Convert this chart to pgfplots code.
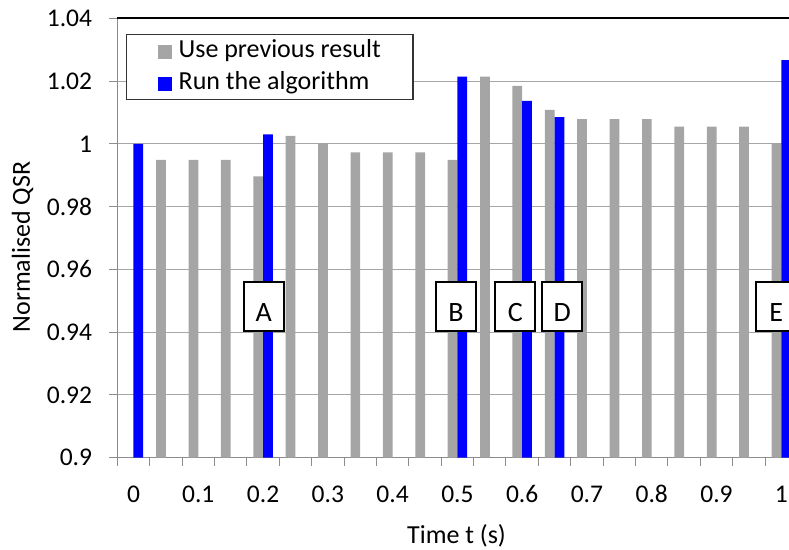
\documentclass[border=0pt]{standalone}
\usepackage{fontspec}
\setmainfont{Carlito}
\usepackage{pgfplots}
\usepackage{pgfplotstable}
\pgfplotsset{compat=1.18}

\definecolor{barGray}{HTML}{A5A5A5}
\definecolor{barBlue}{HTML}{0000FF}
\definecolor{gridGray}{HTML}{A6A6A6}
\definecolor{axisGray}{HTML}{8C8C8C}

% category index i = t/0.05
\pgfplotstableread{
x y
1 0.9949
2 0.9949
3 0.9949
4 0.9896
5 1.0025
6 1.0000
7 0.9973
8 0.9973
9 0.9973
10 0.9949
11 1.0214
12 1.0185
13 1.0108
14 1.0079
15 1.0079
16 1.0079
17 1.0055
18 1.0055
19 1.0055
20 1.0000
}\prevtable
\pgfplotstableread{
x y
0 1.0000
4 1.0030
10 1.0214
12 1.0137
13 1.0085
20 1.0267
}\runtable

\tikzset{markbox/.style={draw=black, line width=2bp, fill=white, minimum width=40bp,
          minimum height=49bp, inner sep=0pt},
         marklab/.style={anchor=base, inner sep=0pt, font=\fontsize{28bp}{32bp}\selectfont}}

\begin{document}
\begin{tikzpicture}
\begin{axis}[
    scale only axis,
    width=671.7bp, height=439.4bp,
    font=\fontsize{26bp}{31bp}\selectfont,
    xmin=-0.5, xmax=20.238,
    ymin=0.9, ymax=1.04,
    ybar, bar width=0.3,
    clip mode=individual,
    axis x line*=bottom, axis y line*=left,
    axis line style={axisGray, line width=1bp, -},
    tick align=outside,
    xtick={0,2,...,20},
    xticklabels={0,0.1,0.2,0.3,0.4,0.5,0.6,0.7,0.8,0.9,1},
    xticklabel style={font=\fontsize{25.5bp}{30bp}\selectfont, anchor=base, yshift=-36.3bp},
    major x tick style={draw=none},
    minor xtick={-0.5,0.5,...,19.5},
    minor tick length=8bp,
    minor x tick style={axisGray, line width=1bp},
    ytick={0.9,0.92,0.94,0.96,0.98,1,1.02,1.04},
    yticklabels={0.9,0.92,0.94,0.96,0.98,1,1.02,1.04},
    yticklabel style={font=\fontsize{25.5bp}{30bp}\selectfont, anchor=east, inner sep=0pt, xshift=-17bp},
    major tick length=8bp,
    y tick style={axisGray, line width=1bp},
    ymajorgrids,
    grid style={gridGray, line width=1bp},
    xlabel={Time t (s)},
    xlabel style={at={(axis description cs:0.505,0)}, anchor=base, yshift=-85.3bp, inner sep=0pt},
    ylabel={Normalised QSR},
    ylabel style={at={([xshift=-87.5bp]axis description cs:0,0.4795)}, anchor=base, inner sep=0pt},
    legend style={at={(axis description cs:0.0128,0.9643)}, anchor=north west,
        draw=black!80, line width=1.5bp, fill=white,
        inner xsep=31bp, inner ysep=4bp, row sep=7bp,
        nodes={inner sep=1bp, text height=18bp, text depth=5bp, anchor=base west},
        /tikz/every odd column/.append style={column sep=6bp}},
    legend cell align=left,
]
\addplot[fill=barGray, draw=none, bar shift=-0.15,
    legend image code/.code={\fill[barGray] (0bp,-1bp) rectangle (14bp,13bp);}]
    table[x=x, y=y] {\prevtable};
\addlegendentry{Use previous result}
\addplot[fill=barBlue, draw=none, bar shift=0.15,
    legend image code/.code={\fill[barBlue] (0bp,-1bp) rectangle (14bp,13bp);}]
    table[x=x, y=y] {\runtable};
\addlegendentry{Run the algorithm}

\draw[black, line width=2bp] (rel axis cs:0,1) -- (rel axis cs:1,1);

% labelled boxes A-E
\node[markbox] (bA) at (axis cs:4.02,0.94817) {};
\node[marklab] at ([yshift=-14.5bp]bA.center) {A};
\node[markbox] (bB) at (axis cs:9.96,0.94817) {};
\node[marklab] at ([yshift=-14.5bp]bB.center) {B};
\node[markbox] (bC) at (axis cs:11.79,0.94817) {};
\node[marklab] at ([yshift=-14.5bp]bC.center) {C};
\node[markbox] (bD) at (axis cs:13.24,0.94817) {};
\node[marklab] at ([yshift=-14.5bp]bD.center) {D};
\node[markbox] (bE) at (axis cs:19.84,0.94817) {};
\node[marklab] at ([yshift=-14.5bp]bE.center) {E};
\end{axis}
\pgfresetboundingbox
\path[use as bounding box] (-117.3bp,-92.3bp) rectangle (671.7bp,457.7bp);
\end{tikzpicture}
\end{document}
